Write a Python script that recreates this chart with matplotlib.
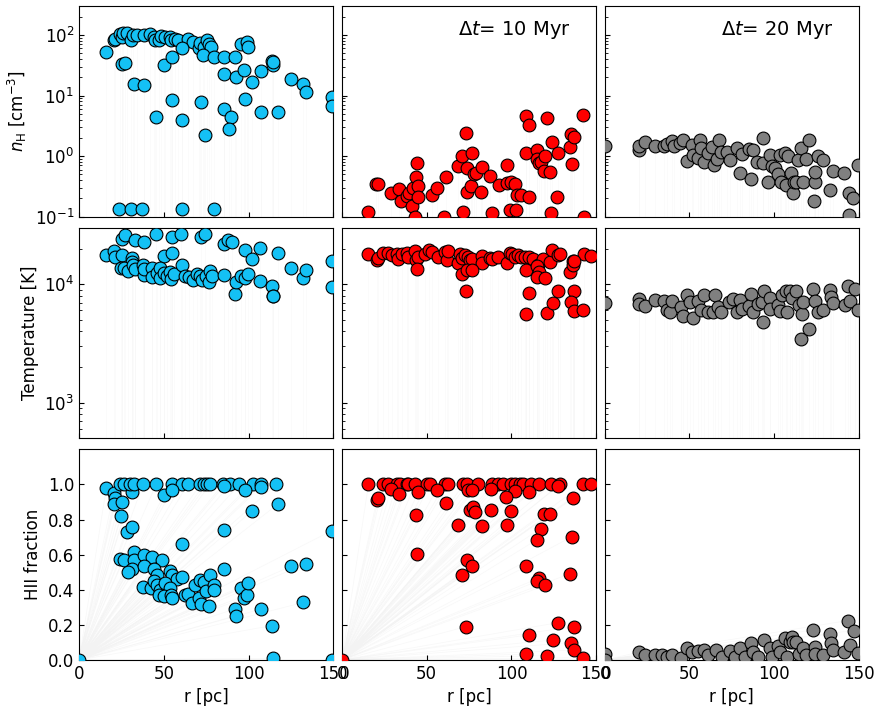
import numpy as np
import matplotlib.pyplot as plt

# ---- data: one set of arrays per panel ----
# column 0: initial snapshot (cyan)
r_nh_0 = [16.1, 20.4, 21.4, 23.9, 25.3, 25.9, 28.3, 30.8, 31.8, 34.2, 38.1, 41.6, 44.0, 45.0,
          46.9, 48.3, 50.8, 53.8, 54.2, 56.7, 58.3, 64.0, 67.1, 70.9, 71.5, 73.8, 75.4, 76.8,
          77.7, 25.3, 27.3, 32.6, 38.1, 49.9, 54.8, 60.7, 72.8, 79.3, 85.2, 91.7, 95.4, 98.9,
          99.9, 85.2, 92.7, 97.0, 101.9, 107.2, 113.7, 114.6, 114.6, 124.8, 132.3, 133.9, 149.0,
          149.4, 54.8, 45.5, 60.7, 72.0, 74.4, 85.2, 89.7, 88.3, 97.6, 107.2, 117.6,
          23.8, 30.6, 36.9, 60.9, 79.3]
nh_0 = [52, 81, 85, 102, 94, 108, 107, 83, 100, 101, 98, 102, 94, 81,
        83, 96, 92, 94, 83, 85, 81, 85, 75, 60, 73, 64, 81, 71,
        64, 33, 35, 15.4, 14.8, 31.6, 43, 60, 47, 44, 43, 43, 70, 75,
        63, 23, 20, 26, 16.6, 25, 37, 32, 36, 18.8, 15.4, 11.3, 9.6,
        6.8, 8.5, 4.4, 4.0, 7.9, 2.2, 6.0, 4.4, 2.8, 8.7, 5.3, 5.3,
        0.134, 0.134, 0.134, 0.134, 0.134]

r_T_0 = [16.1, 20.4, 21.4, 25.3, 25.3, 26.9, 32.8, 38.1, 45.5, 54.8, 60.3, 72.0, 74.2, 85.2,
         88.1, 89.9, 97.6, 106.8, 101.9, 117.6, 49.9, 54.8, 31.2, 31.2, 24.7, 26.3, 28.9, 31.8,
         33.2, 37.7, 38.1, 38.5, 43.0, 43.0, 45.9, 47.9, 47.9, 49.9, 51.8, 53.8, 54.2, 55.8,
         60.7, 62.6, 64.6, 67.1, 69.5, 71.5, 72.4, 75.0, 76.4, 77.0, 78.3, 85.2, 91.7, 92.7,
         95.4, 98.0, 99.9, 106.8, 113.7, 114.6, 114.6, 124.8, 132.3, 133.9, 149.0, 149.0]
T_0 = [17700, 19100, 17100, 17500, 24200, 26200, 23600, 22500, 26600, 24800, 26600, 25000, 26600, 21800,
       23800, 22700, 19500, 20200, 16400, 18300, 17300, 18300, 16600, 15500, 13700, 13800, 12800, 14600,
       13500, 14600, 12000, 13400, 13700, 11600, 12400, 13700, 11200, 12400, 11800, 12600, 11100, 12200,
       14400, 11800, 11500, 10900, 12200, 11800, 10900, 11800, 10500, 12800, 11800, 12000, 8200, 10500,
       11800, 11200, 12200, 10700, 9700, 7900, 8000, 13700, 11200, 13200, 15800, 9400]

r_x_0 = [0.0, 16.1, 20.4, 21.0, 20.8, 25.3, 24.7, 28.3, 31.2, 31.2,
         23.9, 26.3, 30.2, 32.2, 37.7, 45.5, 54.8, 60.7, 64.2, 71.5, 73.8, 75.4, 77.3, 84.8,
         89.1, 94.6, 102.3, 107.2, 116.2,
         49.9, 54.8, 85.2, 97.6, 107.2, 117.6, 101.9, 85.2, 149.0, 60.7,
         24.3, 26.3, 32.2, 32.2, 38.1, 43.0, 48.9, 31.2, 28.7, 38.1, 44.4, 45.9, 53.8, 54.8,
         57.7, 60.7, 37.7, 42.4, 44.4, 45.9, 47.9, 50.8, 53.8, 47.3, 49.9, 54.2, 54.8, 62.6,
         64.2, 66.9, 68.1, 70.9, 72.0, 71.1, 73.4, 75.0, 77.0, 76.4, 79.3, 79.3, 85.2, 91.7,
         92.7, 95.4, 97.0, 98.9, 99.9, 107.2, 113.7, 114.6, 124.8, 133.9, 132.3, 149.0]
x_0 = [0.0, 0.981, 0.952, 0.924, 0.886, 0.899, 0.819, 0.730, 0.756, 0.958,
       1.0, 1.0, 1.0, 1.0, 1.0, 1.0, 1.0, 1.0, 1.0, 1.0, 1.0, 1.0, 1.0, 1.0,
       1.0, 1.0, 1.0, 1.0, 1.0,
       0.937, 0.968, 0.990, 0.968, 0.987, 0.891, 0.848, 0.739, 0.737, 0.663,
       0.577, 0.570, 0.613, 0.568, 0.600, 0.589, 0.571, 0.520, 0.499, 0.533, 0.518, 0.486, 0.505, 0.486,
       0.463, 0.470, 0.417, 0.410, 0.451, 0.429, 0.400, 0.438, 0.410, 0.368, 0.362, 0.368, 0.352, 0.368,
       0.375, 0.324, 0.429, 0.352, 0.320, 0.457, 0.444, 0.394, 0.486, 0.305, 0.429, 0.400, 0.520, 0.290,
       0.253, 0.410, 0.352, 0.371, 0.438, 0.290, 0.196, 0.010, 0.533, 0.549, 0.328, 0.0]

# column 1: dt = 10 Myr (red)
r_nh_1 = [15.7, 20.2, 21.6, 29.0, 33.9, 34.9, 38.2, 39.6, 41.2, 42.2, 43.7, 44.5, 44.7, 45.1,
          43.1, 52.9, 56.3, 61.4, 60.4, 68.6, 70.6, 71.2, 73.1, 73.9, 73.9, 75.9, 76.5, 77.9,
          79.0, 82.0, 82.8, 87.3, 88.8, 92.6, 97.1, 97.5, 100.0, 102.2, 103.0, 99.0, 102.4,
          105.5, 108.8, 110.4, 108.8, 110.4, 115.1, 115.1, 116.3, 117.3, 120.0, 121.0, 119.4,
          122.6, 124.1, 126.9, 127.5, 123.5, 134.3, 134.9, 136.9, 135.7, 142.2, 142.8]
nh_1 = [0.118, 0.35, 0.34, 0.245, 0.286, 0.181, 0.216, 0.245, 0.152, 0.297, 0.46, 0.77, 0.32, 0.21,
        0.10, 0.23, 0.297, 0.45, 0.10, 0.69, 0.99, 0.118, 2.4, 0.63, 0.255, 0.32, 1.12, 0.50,
        0.52, 0.258, 0.66, 0.47, 0.115, 0.33, 0.36, 0.70, 0.37, 0.345, 0.23, 0.13, 0.13,
        0.23, 4.6, 3.3, 1.12, 0.21, 1.27, 0.89, 0.77, 0.80, 0.99, 4.3, 0.56,
        0.54, 1.7, 0.21, 1.12, 0.115, 1.4, 2.3, 2.1, 0.75, 4.8, 0.10]

r_T_1 = [15.7, 20.6, 21.6, 24.5, 27.5, 29.4, 32.4, 33.3, 35.3, 38.2, 39.2, 43.1, 43.7, 45.1, 49.0,
         51.6, 52.9, 56.9, 60.8, 61.8, 62.7, 68.6, 69.6, 70.6, 72.5, 74.5, 75.5, 76.5, 82.4, 82.9,
         87.3, 88.8, 92.2, 97.1, 99.0, 100.6, 102.0, 104.0, 105.9, 107.9, 110.4, 112.8, 115.7,
         118.7, 122.6, 124.1, 127.5, 128.5, 136.3, 142.6, 147.1,
         44.5, 70.6, 73.9, 76.5, 73.1, 108.8, 115.1, 116.3, 115.1, 120.0, 134.3, 136.3, 136.9,
         110.4, 108.8, 121.0, 124.5, 127.5, 136.9, 134.9, 136.9, 142.2]
T_1 = [17900, 16000, 16500, 18500, 18500, 17800, 17900, 16400, 18000, 18500, 17000, 19000, 16000, 16800, 18000,
       19600, 18800, 17100, 18800, 16000, 19200, 15000, 17900, 16700, 17600, 16800, 16000, 16400, 17400, 15000,
       16700, 16400, 16800, 15000, 18500, 17900, 17100, 17600, 17100, 16800, 16800, 16400, 14400,
       16400, 15500, 19600, 17600, 17900, 15800, 17900, 17300,
       13500, 12100, 13200, 13200, 8700, 13200, 14300, 12600, 11600, 11200, 12600, 14600, 15800,
       8400, 5600, 5750, 6900, 8800, 8800, 7100, 5900, 6100]

r_x_1 = [0.0, 15.7, 24.5, 27.5, 32.4, 34.3, 38.2, 39.2, 43.1, 50.0, 51.9, 60.8, 62.7, 71.6, 73.5,
         80.4, 88.8, 92.2, 95.1, 100.0, 102.0, 104.9, 106.9, 111.8, 116.3, 123.5, 128.5, 142.2, 147.1,
         29.0, 33.7, 45.1, 55.9, 74.5, 88.2, 102.0, 110.4, 127.5, 76.5,
         20.6, 21.6, 61.4, 96.5, 136.3, 43.7, 75.5, 77.1, 78.8, 87.7, 100.0, 68.6, 82.8, 97.5,
         119.2, 122.6, 117.3, 115.1, 135.7, 44.5, 73.5, 76.5, 70.6, 108.8, 116.3, 115.1, 120.0,
         134.3, 73.1, 127.5, 136.9, 110.4, 124.5, 134.9, 136.9, 108.8, 121.0, 142.2]
x_1 = [0.0, 1.0, 1.0, 1.0, 1.0, 1.0, 1.0, 1.0, 1.0, 1.0, 1.0, 1.0, 1.0, 1.0, 1.0,
       1.0, 1.0, 1.0, 1.0, 1.0, 1.0, 1.0, 1.0, 1.0, 1.0, 1.0, 1.0, 1.0, 1.0,
       0.975, 0.947, 0.958, 0.971, 0.966, 0.975, 0.962, 0.958, 0.990, 0.966,
       0.909, 0.920, 0.893, 0.928, 0.920, 0.825, 0.853, 0.870, 0.842, 0.857, 0.851, 0.768, 0.766, 0.771,
       0.829, 0.829, 0.749, 0.686, 0.703, 0.606, 0.568, 0.537, 0.486, 0.533, 0.467, 0.448, 0.425,
       0.491, 0.190, 0.213, 0.190, 0.143, 0.114, 0.099, 0.057, 0.034, 0.025, 0.013]

# column 2: dt = 20 Myr (grey)
r_nh_2 = [0.4, 20.0, 20.0, 23.5, 29.4, 34.7, 36.7, 39.6, 40.6, 44.5, 45.9, 48.4, 51.4, 52.3, 55.3,
          56.3, 56.9, 58.3, 61.2, 63.1, 64.7, 66.1, 67.5, 68.6, 72.0, 73.9, 77.9, 79.8, 80.8, 85.1,
          86.3, 87.6, 89.6, 93.5, 93.5, 96.1, 97.5, 98.4, 100.4, 102.0, 103.3, 103.9, 106.3, 106.7,
          107.9, 109.8, 110.8, 111.6, 113.1, 114.1, 115.7, 117.1, 119.0, 120.6, 123.3, 123.9, 124.3,
          125.5, 128.8, 133.1, 134.7, 141.2, 143.9, 146.5, 149.4, 143.9]
nh_2 = [1.48, 1.27, 1.45, 1.68, 1.48, 1.48, 1.60, 1.75, 1.45, 1.64, 1.81, 0.82, 1.54, 1.05, 0.93,
        1.86, 1.36, 0.79, 1.12, 1.44, 0.70, 0.89, 1.86, 1.19, 1.19, 0.85, 1.36, 0.52, 1.09, 1.32,
        0.42, 1.27, 0.79, 1.98, 0.77, 0.38, 1.05, 0.69, 0.63, 0.51, 1.05, 0.38, 1.12, 0.33,
        0.99, 0.52, 0.25, 0.38, 0.38, 0.87, 1.36, 0.38, 0.89, 1.81, 0.18, 0.38, 0.54,
        0.99, 0.85, 0.28, 0.57, 0.52, 0.25, 0.20, 0.70, 0.108]

r_T_2 = [0.4, 20.0, 20.0, 23.5, 29.4, 34.7, 36.7, 38.6, 39.6, 45.1, 45.9, 48.4, 50.4, 52.3, 55.3,
         56.9, 58.3, 61.2, 64.1, 65.1, 67.1, 68.6, 73.3, 75.9, 77.9, 79.8, 80.8, 85.1, 86.3, 87.6,
         90.6, 92.6, 93.5, 94.1, 97.5, 97.5, 102.0, 103.3, 104.3, 106.7, 107.3, 109.2, 110.6, 113.1,
         114.5, 116.1, 117.1, 115.7, 120.6, 122.9, 123.9, 125.5, 128.8, 132.8, 133.7, 134.7, 141.6,
         143.5, 144.5, 147.5, 149.4]
T_2 = [7000, 7500, 6800, 6500, 7360, 7200, 6050, 5800, 7200, 6460, 5400, 8130, 7040, 5150, 7230,
       6050, 8130, 5860, 5860, 8130, 6460, 5860, 7040, 7520, 5860, 7360, 6180, 6590, 8220, 5800,
       6770, 7040, 4830, 8790, 7720, 6180, 6680, 5980, 8130, 8790, 5860, 8790, 7720, 8790,
       6680, 5570, 7040, 3480, 4160, 9130, 7200, 5860, 6050, 8960, 7860, 6900, 6680,
       9740, 7200, 9130, 6050]

r_x_2 = [0.4, 0.4, 20.0, 23.5, 29.4, 33.7, 36.7, 39.6, 45.1, 48.4, 51.4, 55.3, 58.3, 61.2, 65.5,
         69.0, 73.9, 76.9, 79.8, 82.8, 86.3, 87.6, 90.6, 94.1, 97.5, 98.4, 102.0, 103.3, 106.3,
         107.3, 109.2, 110.2, 111.2, 113.1, 114.5, 117.1, 119.0, 122.9, 123.9, 124.3, 128.8, 132.8,
         133.3, 134.7, 141.2, 143.5, 144.5, 147.1, 149.4]
x_2 = [0.032, 0.0, 0.044, 0.029, 0.029, 0.029, 0.019, 0.029, 0.013, 0.070, 0.044, 0.051, 0.057, 0.029, 0.057,
       0.019, 0.051, 0.019, 0.070, 0.019, 0.099, 0.048, 0.019, 0.114, 0.067, 0.019, 0.082, 0.044, 0.124,
       0.019, 0.105, 0.133, 0.105, 0.105, 0.032, 0.067, 0.029, 0.171, 0.076, 0.032, 0.029, 0.147,
       0.095, 0.057, 0.048, 0.225, 0.086, 0.168, 0.038]

colors = ['#14c1f5', 'red', 'grey']
labels = [None, r'$\Delta t$= 10 Myr', r'$\Delta t$= 20 Myr']
panels = [
    [(r_nh_0, nh_0), (r_T_0, T_0), (r_x_0, x_0)],
    [(r_nh_1, nh_1), (r_T_1, T_1), (r_x_1, x_1)],
    [(r_nh_2, nh_2), (r_T_2, T_2), (r_x_2, x_2)],
]

plt.rcParams['font.size'] = 12
fig, axes = plt.subplots(3, 3, figsize=(8.82, 7.13), dpi=100, sharex=True, sharey='row')
fig.subplots_adjust(left=0.0896, right=0.974, bottom=0.0743, top=0.9916,
                    wspace=0.033, hspace=0.052)

ylims = [(0.1, 300), (500, 3e4), (0, 1.2)]
for col in range(3):
    for row in range(3):
        ax = axes[row, col]
        r, v = panels[col][row]
        r = np.asarray(r)
        v = np.asarray(v)
        # faint trajectory lines back to the centre
        if row == 2:
            for ri, vi in zip(r, v):
                ax.plot([0, ri], [0, vi], color='#f3f3f3', lw=0.5, alpha=0.6, zorder=1)
        else:
            for ri, vi in zip(r, v):
                ax.plot([ri, ri], [ylims[row][0] * 0.5, vi], color='#f6f6f6', lw=0.5,
                        alpha=0.6, zorder=1)
        ax.scatter(r, v, s=85, c=colors[col], edgecolors='black', linewidths=0.8,
                   zorder=3, clip_on=True)
        ax.tick_params(direction='in', which='both')
        if row < 2:
            ax.set_yscale('log')
        ax.set_ylim(*ylims[row])
        ax.set_xlim(0, 150)
    if labels[col]:
        axes[0, col].text(0.68, 0.885, labels[col], transform=axes[0, col].transAxes,
                          ha='center', va='center', fontsize=14)

axes[2, 0].set_xticks([0, 50, 100, 150])
axes[2, 0].set_yticks([0, 0.2, 0.4, 0.6, 0.8, 1.0])
for col in range(3):
    axes[2, col].set_xlabel('r [pc]')
    for row in range(3):
        axes[row, col].tick_params(labelbottom=(row == 2), labelleft=(col == 0))

axes[0, 0].set_ylabel(r'$n_{\rm H}$ [cm$^{-3}$]')
axes[1, 0].set_ylabel('Temperature [K]')
axes[2, 0].set_ylabel('HII fraction')

fig.savefig('out.png', dpi=100)
